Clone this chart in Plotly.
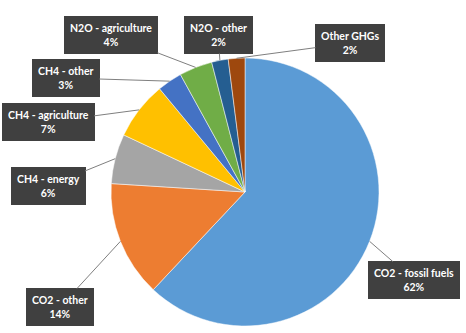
import math
import plotly.graph_objects as go

labels = ["CO2 - fossil fuels", "CO2 - other", "CH4 - energy", "CH4 - agriculture",
          "CH4 - other", "N2O - agriculture", "N2O - other", "Other GHGs"]
values = [62, 14, 6, 7, 3, 4, 2, 2]
colors = ["#5B9BD5", "#ED7D31", "#A5A5A5", "#FFC000", "#4472C4", "#70AD47", "#255E91", "#9E480E"]

W, H = 466, 333
cx, cy, r = 245, 192, 134  # pie centre/radius in pixels

# label box centres (pixels, from top-left)
box_pos = {
    "CO2 - fossil fuels": (414, 280),
    "CO2 - other": (60, 307),
    "CH4 - energy": (48, 186),
    "CH4 - agriculture": (48, 122),
    "CH4 - other": (66, 78),
    "N2O - agriculture": (111, 35),
    "N2O - other": (218, 35),
    "Other GHGs": (350, 43),
}

fig = go.Figure()
fig.add_trace(go.Pie(
    labels=labels, values=values, sort=False, direction="clockwise", rotation=0,
    marker=dict(colors=colors, line=dict(color="white", width=0.5)),
    textinfo="none", showlegend=False, hoverinfo="label+percent",
    domain=dict(x=[(cx - r) / W, (cx + r) / W], y=[(H - cy - r) / H, (H - cy + r) / H]),
))

total = sum(values)
cum = 0
annotations = []
for lab, v in zip(labels, values):
    mid = (cum + v / 2) / total * 2 * math.pi
    cum += v
    px = cx + r * math.sin(mid)
    py = cy - r * math.cos(mid)
    bx, by = box_pos[lab]
    pct = round(v / total * 100)
    annotations.append(dict(
        x=px / W, y=1 - py / H, xref="paper", yref="paper",
        ax=bx - px, ay=by - py, axref="pixel", ayref="pixel",
        text=f"<b>{lab}</b><br><b>{pct}%</b>", showarrow=True, arrowhead=0, arrowwidth=1,
        arrowcolor="#7F7F7F", standoff=0, startstandoff=0,
        font=dict(family="Lato", size=10.5, color="white"),
        bgcolor="#404040", bordercolor="#404040", borderwidth=1, borderpad=5,
        align="center",
    ))

fig.update_layout(
    width=W, height=H, margin=dict(l=0, r=0, t=0, b=0),
    paper_bgcolor="white", plot_bgcolor="white",
    annotations=annotations,
)
fig.write_html("out.html")
